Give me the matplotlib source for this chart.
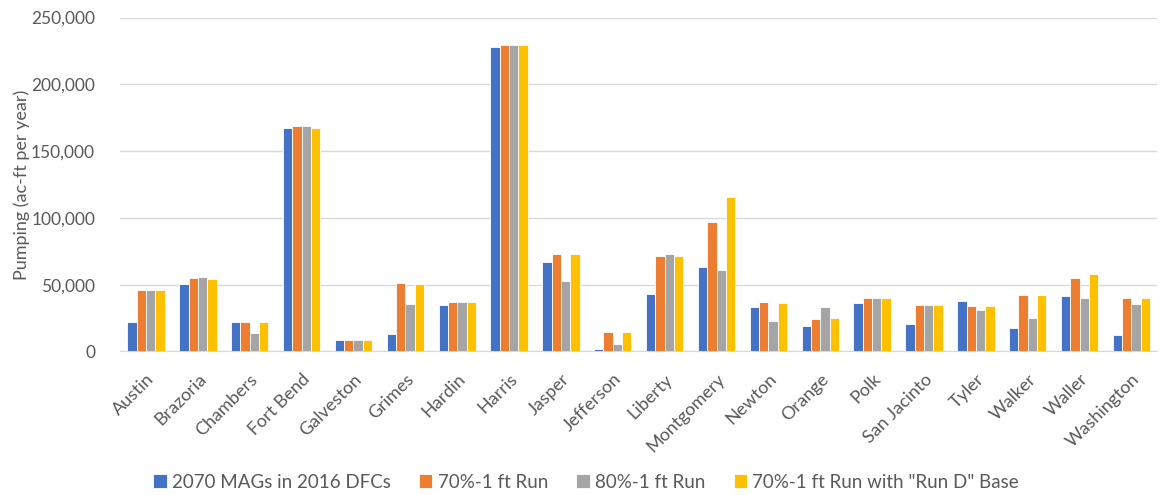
import matplotlib.pyplot as plt
import matplotlib.ticker as mticker
import matplotlib.transforms as mtransforms
import numpy as np

counties = ["Austin", "Brazoria", "Chambers", "Fort Bend", "Galveston", "Grimes",
            "Hardin", "Harris", "Jasper", "Jefferson", "Liberty", "Montgomery",
            "Newton", "Orange", "Polk", "San Jacinto", "Tyler", "Walker", "Waller",
            "Washington"]

mags_2016 = [22000, 50300, 22300, 167300, 8500, 13300, 34600, 228000, 67000, 1900,
             42800, 63500, 33500, 18900, 36300, 20600, 37800, 17600, 41300, 12400]
run_70 = [46000, 54800, 21900, 169000, 8500, 51000, 37300, 229200, 73000, 14800,
          71500, 96900, 37000, 24600, 40000, 34800, 34000, 42300, 55300, 39800]
run_80 = [46000, 56000, 14100, 169000, 8500, 35300, 37300, 229200, 52800, 5800,
          73000, 61000, 22800, 33300, 40000, 34800, 31000, 25300, 39800, 35600]
run_70_d = [46000, 54500, 21900, 167300, 8500, 50300, 37300, 229200, 73000, 14600,
            71300, 115400, 36500, 24800, 40000, 34800, 34000, 42300, 57800, 39800]

series = [
    ("2070 MAGs in 2016 DFCs", mags_2016, "#4472C4"),
    ("70%-1 ft Run", run_70, "#ED7D31"),
    ("80%-1 ft Run", run_80, "#A5A5A5"),
    ('70%-1 ft Run with "Run D" Base', run_70_d, "#FFC000"),
]

plt.rcParams['font.family'] = ['Lato', 'DejaVu Sans']
txt = "#595959"

fig = plt.figure(figsize=(11.61, 4.95), dpi=100)
ax = fig.add_axes([0.1034, 0.2899, 0.8935, 0.6747])

x = np.arange(len(counties))
w = 0.18
for i, (name, vals, col) in enumerate(series):
    ax.bar(x + (i - 1.5) * w, vals, w, color=col, edgecolor="white",
           linewidth=0.6, label=name, zorder=3)

ax.set_xlim(-0.5, len(counties) - 0.5)
ax.set_ylim(0, 250000)
ax.yaxis.set_major_locator(mticker.MultipleLocator(50000))
ax.yaxis.set_major_formatter(mticker.FuncFormatter(lambda v, p: f"{int(v):,}"))
ax.grid(axis="y", color="#d9d9d9", linewidth=1, zorder=0)

for s in ["top", "right", "left"]:
    ax.spines[s].set_visible(False)
ax.spines["bottom"].set_color("#d9d9d9")

ax.set_xticks(x)
ax.set_xticklabels(counties, rotation=45, ha="right", rotation_mode="anchor",
                   fontsize=13, color=txt)
# nudge the rotated county names to the right so they end under the bars
shift = mtransforms.ScaledTranslation(9 / 100, 0, fig.dpi_scale_trans)
for lbl in ax.get_xticklabels():
    lbl.set_transform(lbl.get_transform() + shift)
ax.tick_params(axis="x", length=0, pad=14)
ax.tick_params(axis="y", length=0, labelsize=12.5, labelcolor=txt, pad=18)
ax.set_ylabel("Pumping (ac-ft per year)", fontsize=13, color=txt, labelpad=1)

fig.legend(loc="lower center", bbox_to_anchor=(0.505, -0.025), ncol=4, frameon=False,
           fontsize=13.5, labelcolor=txt, handlelength=0.7, handleheight=0.7,
           handletextpad=0.3, columnspacing=1.5)

fig.savefig("out.png", dpi=100)
